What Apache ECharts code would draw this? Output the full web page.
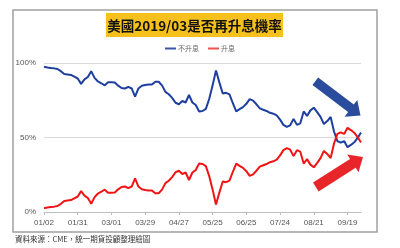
<!DOCTYPE html>
<html><head><meta charset="utf-8">
<script src="https://cdn.jsdelivr.net/npm/echarts@6/dist/echarts.min.js"></script>
<style>html,body{margin:0;padding:0;background:#fff;}#c{width:400px;height:248px;}</style>
</head><body><div id="c"></div>
<script>
var categories = ['01/02','01/05','01/08','01/11','01/15','01/17','01/19','01/23','01/25','01/29',
'01/31','02/05','02/07','02/09','02/13','02/15','02/20','02/22','02/26','02/27',
'03/01','03/05','03/07','03/09','03/13','03/15','03/19','03/21','03/23','03/27',
'03/29','04/03','04/05','04/09','04/11','04/13','04/17','04/19','04/23','04/25',
'04/27','05/01','05/03','05/07','05/09','05/11','05/15','05/17','05/21','05/23',
'05/25','05/30','06/01','06/05','06/07','06/11','06/13','06/15','06/19','06/21',
'06/25','06/27','06/29','07/03','07/06','07/10','07/12','07/16','07/18','07/20',
'07/24','07/26','07/30','08/01','08/03','08/07','08/09','08/13','08/15','08/17',
'08/21','08/23','08/27','08/29','08/31','09/05','09/07','09/11','09/13','09/17',
'09/19','09/21','09/25','09/27','09/28'];
var noHike = [97.5,97.0,96.6,96.4,96.0,94.5,92.6,92.3,92.0,90.8,
89.6,86.0,89.0,90.6,94.5,90.0,87.6,86.4,85.0,87.0,
87.0,86.9,84.8,83.2,82.9,84.0,82.9,77.5,82.9,84.7,
85.2,85.6,85.5,87.4,87.4,85.0,80.6,79.0,76.6,73.3,
72.3,74.5,73.5,78.5,73.5,71.8,67.5,67.8,69.2,76.0,
85.0,95.0,87.0,79.5,80.0,79.0,73.0,67.5,69.0,70.4,
72.6,75.8,74.8,72.3,69.6,68.6,67.8,66.6,66.0,64.9,
62.0,58.5,57.1,58.2,62.5,58.5,59.5,67.5,64.5,68.2,
70.0,67.0,63.8,59.0,61.0,63.8,54.0,47.6,46.5,47.6,
43.5,45.0,46.8,49.7,53.3];
var hike = [2.5,3.0,3.4,3.6,4.0,5.5,7.4,7.7,8.0,9.2,
10.4,14.0,11.0,9.4,5.5,10.0,12.4,13.6,15.0,13.0,
13.0,13.1,15.2,16.8,17.1,16.0,17.1,22.5,17.1,15.3,
14.8,14.4,14.5,12.6,12.6,15.0,19.4,21.0,23.4,26.7,
27.7,25.5,26.5,21.5,26.5,28.2,32.5,32.2,30.8,24.0,
15.0,5.0,13.0,20.5,20.0,21.0,27.0,32.5,31.0,29.6,
27.4,24.2,25.2,27.7,30.4,31.4,32.2,33.4,34.0,35.1,
38.0,41.5,42.9,41.8,37.5,41.5,40.5,32.5,35.5,31.8,
30.0,33.0,36.2,41.0,39.0,36.2,46.0,52.4,53.5,52.4,
56.5,55.0,53.2,50.3,46.7];
var yTicks = [0, 50, 100];
var seriesNames = ['不升息', '升息'];

function arrow(sx, sy, tx, ty, sw, hl, hw) {
  var dx = tx - sx, dy = ty - sy, L = Math.sqrt(dx*dx + dy*dy);
  var ux = dx / L, uy = dy / L, px = -uy, py = ux;
  var bx = tx - ux*hl, by = ty - uy*hl;
  return [
    [sx + px*sw, sy + py*sw],
    [bx + px*sw, by + py*sw],
    [bx + px*hw, by + py*hw],
    [tx, ty],
    [bx - px*hw, by - py*hw],
    [bx - px*sw, by - py*sw],
    [sx - px*sw, sy - py*sw]
  ];
}

var font = '"Noto Sans CJK TC", "Liberation Sans", sans-serif';
var chart = echarts.init(document.getElementById('c'), null, {renderer: 'canvas'});
chart.setOption({
  animation: false,
  backgroundColor: '#fff',
  textStyle: {fontFamily: font},
  grid: {left: 44, right: 39, top: 63, bottom: 36, containLabel: false},
  legend: {
    top: 40, left: 160, icon: 'rect', itemWidth: 11, itemHeight: 2, itemGap: 9,
    textStyle: {fontSize: 7, color: '#666', fontFamily: font, padding: [0, 0, 0, -3]},
    data: seriesNames
  },
  xAxis: {
    type: 'category', data: categories, boundaryGap: false,
    axisLine: {lineStyle: {color: '#c0c0c0', width: 1}},
    axisTick: {interval: 9, length: 3, lineStyle: {color: '#c0c0c0'}},
    axisLabel: {interval: 9, fontSize: 8, color: '#555', margin: 7, fontFamily: '"Liberation Sans", sans-serif'}
  },
  yAxis: {
    type: 'value', min: yTicks[0], max: yTicks[2], interval: 50,
    axisLine: {show: false}, axisTick: {show: false},
    splitLine: {lineStyle: {color: '#d9d9d9', width: 1}},
    axisLabel: {formatter: '{value}%', fontSize: 8, color: '#555', margin: 8, fontFamily: '"Liberation Sans", sans-serif'}
  },
  series: [
    {name: seriesNames[0], type: 'line', data: noHike, showSymbol: false, symbol: 'none',
     lineStyle: {color: '#1f3f9f', width: 2}, itemStyle: {color: '#3a55a8'}},
    {name: seriesNames[1], type: 'line', data: hike, showSymbol: false, symbol: 'none',
     lineStyle: {color: '#f01414', width: 2}, itemStyle: {color: '#f05050'}}
  ],
  graphic: [
    {type: 'rect', shape: {x: 13, y: 10, width: 364, height: 222}, style: {fill: 'none', stroke: '#a0a0a0', lineWidth: 1.5}, z: 0},
    {type: 'rect', shape: {x: 106, y: 13, width: 177, height: 24}, style: {fill: '#f6c11c'}, z: 1},
    {type: 'text', x: 194.5, y: 25.5, style: {text: '美國2019/03是否再升息機率', fill: '#111', font: 'bold 13.5px ' + font, textAlign: 'center', textVerticalAlign: 'middle'}, z: 2},
    {type: 'polygon', shape: {points: arrow(315.3, 81.3, 360.5, 115.5, 4.7, 12, 10.5)}, style: {fill: '#2b4c9c'}, z: 10},
    {type: 'polygon', shape: {points: arrow(315.8, 187, 363, 157, 5.2, 12, 10.5)}, style: {fill: '#e8262a'}, z: 10},
    {type: 'text', x: 15, y: 239.5, style: {text: '資料來源：CME，統一期貨投顧整理繪圖', fill: '#333', font: '7.5px ' + font, textVerticalAlign: 'middle'}, z: 2}
  ]
});
</script></body></html>
